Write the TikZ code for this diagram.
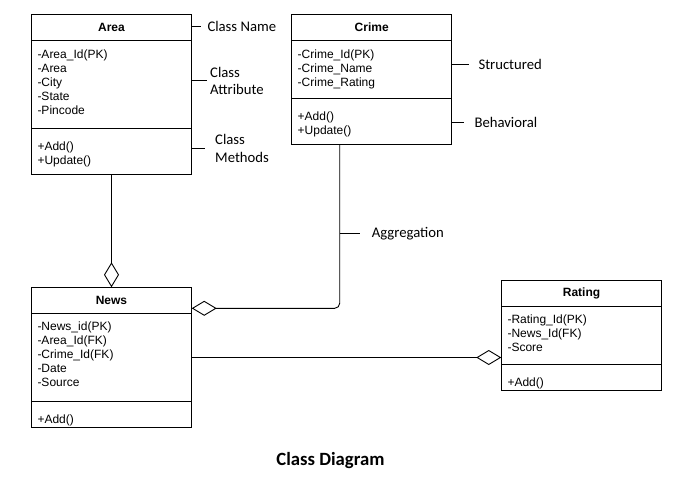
\documentclass[tikz,border=0pt]{standalone}
\usepackage{fontspec}
\setmainfont{Liberation Sans}
\newfontfamily\notefont{Carlito}
\usepackage{tikz}
\usetikzlibrary{positioning,arrows.meta}
\tikzset{class title/.style={draw,line width=0.9pt,outer sep=0pt,inner sep=0pt,minimum width=160.4pt,font=\bfseries\fontsize{12}{14}\selectfont},
  class part/.style={draw,line width=0.9pt,outer sep=0pt,inner sep=0pt,minimum width=160.4pt},
  class text/.style={align=left,inner sep=0pt,font=\fontsize{12}{14}\selectfont},
  note/.style={align=left,inner sep=0pt,anchor=west,font=\notefont\fontsize{14.7}{17.6}\selectfont},
  note line/.style={line width=0.9pt},
  aggr/.style={line width=0.9pt,-{Diamond[open,length=25pt,width=15pt]}},}

\begin{document}
\begin{tikzpicture}[x=1pt,y=-1pt]
       \path[fill=white,use as bounding box] (0,0) rectangle (683,483);

       % classes
       \node[class title,minimum height=26.4pt] (area) at (111.5,27.5) {Area};
       \node[class part,minimum height=87.6pt] (area-attr) [below=0pt of area] {};
       \node[class part,minimum height=45.7pt] (area-meth) [below=0pt of area-attr] {};
       \node[class text] [below right=8.5pt and 6pt of area-attr.north west] {-Area\_Id(PK)\\-Area\\-City\\-State\\-Pincode};
       \node[class text] [below right=13pt and 6pt of area-meth.north west] {+Add()\\+Update()};

       \node[class title,minimum height=26.4pt] (crime) at (371.7,27.5) {Crime};
       \node[class part,minimum height=58pt] (crime-attr) [below=0pt of crime] {};
       \node[class part,minimum height=45.6pt] (crime-meth) [below=0pt of crime-attr] {};
       \node[class text] [below right=8.5pt and 6pt of crime-attr.north west] {-Crime\_Id(PK)\\-Crime\_Name\\-Crime\_Rating};
       \node[class text] [below right=13pt and 6pt of crime-meth.north west] {+Add()\\+Update()};

       \node[class title,minimum height=26pt] (news) at (111.5,300.3) {News};
       \node[class part,minimum height=88.4pt] (news-attr) [below=0pt of news] {};
       \node[class part,minimum height=25.6pt] (news-meth) [below=0pt of news-attr] {};
       \node[class text] [below right=8.5pt and 6pt of news-attr.north west] {-News\_id(PK)\\-Area\_Id(FK)\\-Crime\_Id(FK)\\-Date\\-Source};
       \node[class text] [below right=13pt and 6pt of news-meth.north west] {+Add()};

       \node[class title,minimum height=25.7pt] (rating) at (581.5,293.2) {Rating};
       \node[class part,minimum height=58.7pt] (rating-attr) [below=0pt of rating] {};
       \node[class part,minimum height=25.3pt] (rating-meth) [below=0pt of rating-attr] {};
       \node[class text] [below right=8.5pt and 6pt of rating-attr.north west] {-Rating\_Id(PK)\\-News\_Id(FK)\\-Score};
       \node[class text] [below right=13pt and 6pt of rating-meth.north west] {+Add()};

       % aggregations
       \coordinate (crime-drop) at ([xshift=-32pt]crime-meth.south);
       \draw[aggr] (area-meth) -- (news);
       \draw[aggr,rounded corners=5pt] (crime-drop) |- ([yshift=-8pt]news.east);
       \draw[aggr] (news-attr.east) -- (news-attr.east -| rating-attr.west);

       % notes
       \node[note] (lbl-name) at (207.3,26) {Class Name};
       \node[note] (lbl-attr) at (210,80.8) {Class\\Attribute};
       \node[note] (lbl-meth) at (215,148.6) {Class\\Methods};
       \node[note] (lbl-struct) at (478.3,64.2) {Structured};
       \node[note] (lbl-behav) at (474.3,122) {Behavioral};
       \node[note] (lbl-aggr) at (371.7,233.8) {Aggregation};

       \draw[note line] (area.east |- lbl-name.west) -- ([xshift=-6.6pt]lbl-name.west);
       \draw[note line] (area-attr.east |- lbl-attr.west) -- ([xshift=-3.3pt]lbl-attr.west);
       \draw[note line] (area-meth.east |- lbl-meth.west) -- ([xshift=-10pt]lbl-meth.west);
       \draw[note line] (crime-attr.east |- lbl-struct.west) -- ([xshift=-9pt]lbl-struct.west);
       \draw[note line] (crime-meth.east |- lbl-behav.west) -- ([xshift=-10.3pt]lbl-behav.west);
       \draw[note line] (crime-drop |- lbl-aggr.west) -- ([xshift=-11.7pt]lbl-aggr.west);

       \node[font=\notefont\bfseries\fontsize{18.7}{22}\selectfont] (caption) at (330.5,460.5) {Class Diagram};
\end{tikzpicture}
\end{document}
